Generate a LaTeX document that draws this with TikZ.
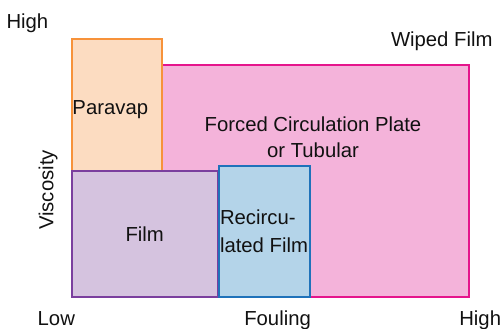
\documentclass[tikz,border=0pt]{standalone}
\usepackage{fontspec}
\setmainfont{Liberation Sans}
\definecolor{txt}{HTML}{111111}
\definecolor{orB}{HTML}{F7923A}
\definecolor{orF}{HTML}{FCDCC1}
\definecolor{pkB}{HTML}{E5158C}
\definecolor{pkF}{HTML}{F4B3DA}
\definecolor{puB}{HTML}{7B3F9E}
\definecolor{puF}{HTML}{D5C3DF}
\definecolor{blB}{HTML}{1F72BA}
\definecolor{blF}{HTML}{B4D4E9}
\tikzset{
  region/.style={rectangle, line width=2pt, inner sep=0pt, outer sep=0pt, anchor=north west},
  lbl/.style={inner sep=0pt, outer sep=0pt, text=txt, font=\fontsize{20.3}{26}\selectfont},
}
\begin{document}
\begin{tikzpicture}[x=1pt,y=-1pt]
\useasboundingbox (0,0) rectangle (503,329);
\node[region, draw=pkB, fill=pkF, minimum width=308pt, minimum height=232pt] (forced) at (161,65) {};
\node[region, draw=orB, fill=orF, minimum width=89.5pt, minimum height=131.5pt] (paravap) at (72,39.5) {};
\node[region, draw=puB, fill=puF, minimum width=145.7pt, minimum height=126pt] (film) at (72,171) {};
\node[region, draw=blB, fill=blF, minimum width=91.5pt, minimum height=131.5pt] (recirc) at (218.7,165.5) {};
\node[lbl, anchor=base west] (yhigh) at (6.5,28.3) {High};
\node[lbl, anchor=base west] (wiped) at (391,46.7) {Wiped Film};
\node[lbl, anchor=base] (paravaplbl) at (110.3,114.3) {Paravap};
\node[lbl, anchor=base] (forcedlbl1) at (313,131.7) {Forced Circulation Plate};
\node[lbl, anchor=base] (forcedlbl2) at (313,157.7) {or Tubular};
\node[lbl, anchor=base] (filmlbl) at (144.7,241.7) {Film};
\node[lbl, anchor=base west] (recirclbl1) at (220,224.3) {Recircu-};
\node[lbl, anchor=base west] (recirclbl2) at (220,252.7) {lated Film};
\node[lbl, anchor=base west] (low) at (37.7,325.7) {Low};
\node[lbl, anchor=base west] (fouling) at (244.3,325.7) {Fouling};
\node[lbl, anchor=base west] (xhigh) at (459.3,325.7) {High};
\node[lbl, anchor=base, rotate=90] (visc) at (53.3,190) {Viscosity};
\end{tikzpicture}
\end{document}
